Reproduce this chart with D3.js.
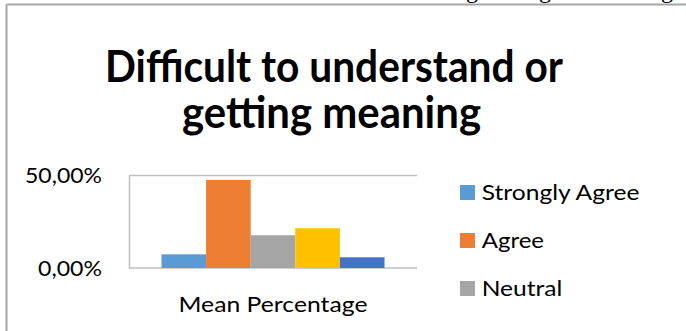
<!DOCTYPE html>
<html>
<head>
<meta charset="utf-8">
<script src="https://cdn.jsdelivr.net/npm/d3@7"></script>
<style>
  html, body { margin: 0; padding: 0; background: #fff; }
  svg { display: block; }
  text { font-family: Lato, "Open Sans", "Noto Sans", sans-serif; fill: #000; }
</style>
</head>
<body>
<svg id="chart" width="686" height="331"></svg>
<script>
// ---- data ----
const titleLines = ["Difficult to understand or", "getting meaning"];
const categories = ["Mean Percentage"];
const seriesNames = ["Strongly Agree", "Agree", "Neutral", "Disagree", "Strongly Disagree"];
const seriesValues = [0.074, 0.476, 0.177, 0.215, 0.058];
const seriesColors = ["#5B9BD5", "#ED7D31", "#A5A5A5", "#FFC000", "#4472C4"];
const yTicks = [0, 0.5];
const legendShown = ["Strongly Agree", "Agree", "Neutral"];

const svg = d3.select("#chart");

// outer frame (partially cropped chart box)
svg.append("line").attr("x1", 6.5).attr("x2", 6.5).attr("y1", 4.5).attr("y2", 331)
  .attr("stroke", "#a6a6a6").attr("stroke-width", 2);
svg.append("line").attr("x1", 6.5).attr("x2", 686).attr("y1", 4.5).attr("y2", 4.5)
  .attr("stroke", "#a6a6a6").attr("stroke-width", 2);

// fragments of document text above the crop (descenders only)
[472, 545, 667].forEach(x => {
  svg.append("text").attr("x", x).attr("y", -2).attr("text-anchor", "middle")
    .style("font-family", "'Liberation Serif', serif").style("font-size", "24px").text("g");
});

// title
const titleY = [81.7, 128];
const titleX = [334, 331.5];
const titleW = [458, 299];
titleLines.forEach((t, i) => {
  svg.append("text")
    .attr("x", titleX[i]).attr("y", titleY[i])
    .attr("text-anchor", "middle")
    .attr("textLength", titleW[i]).attr("lengthAdjust", "spacingAndGlyphs")
    .style("font-size", "44px").style("font-weight", "bold")
    .text(t);
});

// scales
const plotL = 129, plotR = 417, plotT = 175.5, plotB = 268;
const x0 = d3.scaleBand().domain(categories).range([plotL, plotR]).paddingInner(0).paddingOuter(0.1457);
const x1 = d3.scaleBand().domain(seriesNames).range([0, x0.bandwidth()]);
const y = d3.scaleLinear().domain([0, 0.5]).range([plotB, plotT]);

// gridlines
svg.append("g").selectAll("line").data(yTicks).join("line")
  .attr("x1", plotL).attr("x2", plotR)
  .attr("y1", d => y(d)).attr("y2", d => y(d))
  .attr("stroke", "#bfbfbf").attr("stroke-width", 1.5);

// y axis
const fmt = d => d3.format(".2f")(d * 100).replace(".", ",") + "%";
const yAxis = svg.append("g").attr("transform", `translate(${plotL},0)`)
  .call(d3.axisLeft(y).tickValues(yTicks).tickFormat(fmt).tickSize(0).tickPadding(27));
yAxis.select(".domain").attr("stroke", "#bfbfbf").attr("stroke-width", 1.5);
yAxis.selectAll("text").style("font-size", "21px").attr("dy", "0.35em")
  .attr("textLength", d => d === 0 ? 64 : 77).attr("lengthAdjust", "spacingAndGlyphs")
  .style("font-family", "Lato, sans-serif");

// bars
const g = svg.append("g").selectAll("g").data(categories).join("g")
  .attr("transform", d => `translate(${x0(d)},0)`);
g.selectAll("rect").data(seriesNames.map((s, i) => ({ s, v: seriesValues[i], c: seriesColors[i] })))
  .join("rect")
  .attr("x", d => x1(d.s)).attr("width", x1.bandwidth())
  .attr("y", d => y(d.v)).attr("height", d => y(0) - y(d.v))
  .attr("fill", d => d.c);

// x axis label
svg.append("g").attr("transform", `translate(0,${plotB})`)
  .call(d3.axisBottom(x0).tickSize(0).tickPadding(0))
  .call(a => a.select(".domain").remove())
  .selectAll("text").attr("y", 43.7).attr("dy", 0)
  .style("font-size", "22px").style("font-family", "Lato, sans-serif")
  .attr("textLength", 189).attr("lengthAdjust", "spacingAndGlyphs");

// legend
const legendW = { "Strongly Agree": 157.7, "Agree": 62.3, "Neutral": 80.7 };
const lg = svg.append("g").selectAll("g").data(legendShown).join("g")
  .attr("transform", (d, i) => `translate(460,${185 + i * 48})`);
lg.append("rect").attr("width", 15).attr("height", 15)
  .attr("fill", d => seriesColors[seriesNames.indexOf(d)]);
lg.append("text").attr("x", 21.7).attr("y", 15)
  .style("font-size", "22px")
  .attr("textLength", d => legendW[d]).attr("lengthAdjust", "spacingAndGlyphs")
  .text(d => d);
</script>
</body>
</html>
